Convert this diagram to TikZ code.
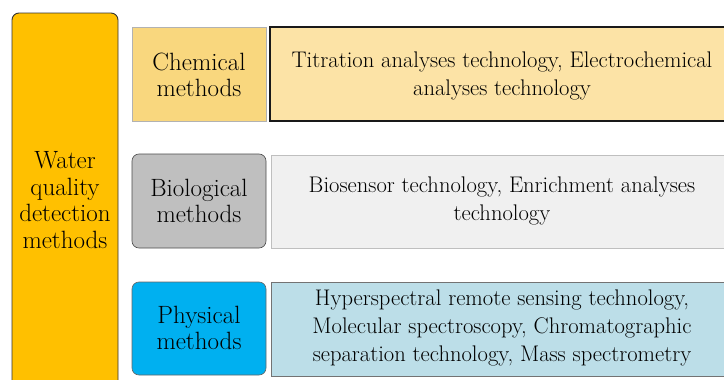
\documentclass[tikz,border=0pt]{standalone}
\definecolor{mainor}{HTML}{FFC000}
\definecolor{chemL}{HTML}{F9D77E}
\definecolor{chemR}{HTML}{FCE3A6}
\definecolor{bioL}{HTML}{BFBFBF}
\definecolor{bioR}{HTML}{F0F0F0}
\definecolor{phyL}{HTML}{00B0F0}
\definecolor{phyR}{HTML}{BCDEE8}
\tikzset{
  lbl/.style={font=\fontsize{25}{26.5}\selectfont, align=center, text=black},
  rtx/.style={font=\fontsize{22.6}{28}\selectfont, align=center, text=black},
}
\begin{document}
\begin{tikzpicture}[x=1pt,y=-1pt]
\useasboundingbox (0,0) rectangle (724,380);
\clip (0,0) rectangle (724,380);
\fill[white] (0,0) rectangle (724,380);
% main box
\draw[fill=mainor, draw=black!80, line width=0.9pt, rounded corners=7pt] (12,13) rectangle (118,400);
\node[lbl, text width=104pt] (main) at (65,200) {Water\\quality\\detection\\methods};
% chemical
\draw[fill=chemL, draw=black!30, line width=0.8pt] (132,27) rectangle (266,121);
\node[lbl] (chem) at (199,75) {Chemical\\methods};
\draw[fill=chemR, draw=black!90, line width=1.3pt] (270,27) rectangle (728,121);
\node[rtx] (chemt) at (502,76) {Titration analyses technology, Electrochemical\\analyses technology};
% biological
\draw[fill=bioL, draw=black!70, line width=0.6pt, rounded corners=7pt] (132,154) rectangle (266,248);
\node[lbl] (bio) at (199,201) {Biological\\methods};
\draw[fill=bioR, draw=black!25, line width=0.8pt] (271,155) rectangle (728,248);
\node[rtx] (biot) at (502,201) {Biosensor technology, Enrichment analyses\\technology};
% physical
\draw[fill=phyL, draw=black!60, line width=0.6pt, rounded corners=7pt] (132,282) rectangle (266,375);
\node[lbl] (phy) at (199,328) {Physical\\methods};
\draw[fill=phyR, draw=black!55, line width=0.8pt] (271,282) rectangle (728,376);
\node[rtx] (phyt) at (502,328) {Hyperspectral remote sensing technology,\\Molecular spectroscopy, Chromatographic\\separation technology, Mass spectrometry};
\end{tikzpicture}
\end{document}
